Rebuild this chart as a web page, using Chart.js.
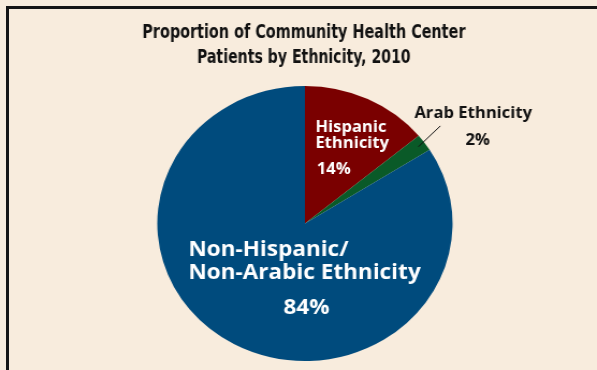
<!DOCTYPE html>
<html>
<head>
<meta charset="utf-8">
<script src="https://cdn.jsdelivr.net/npm/chart.js@4/dist/chart.umd.min.js"></script>
<style>
  html, body { margin: 0; padding: 0; background: #f8ecdd; overflow: hidden; }
  #frame {
    position: absolute; left: 6px; top: 6px; width: 700px; height: 500px;
    border-left: 3px solid #151515; border-top: 3px solid #151515;
  }
  /* the chart is drawn a little narrower, then widened to fit */
  #wrap {
    position: absolute; left: 0; top: 0; width: 556px; height: 370px;
    transform: scaleX(1.0737); transform-origin: 0 0;
  }
</style>
</head>
<body>
<div id="frame"></div>
<div id="wrap"><canvas id="pieChart"></canvas></div>
<script>
// Community health center patients by ethnicity, 2010 (percent)
const categories = ['Hispanic Ethnicity', 'Arab Ethnicity', 'Non-Hispanic/Non-Arabic Ethnicity'];
const shares = [14, 2, 84];
const sliceColors = ['#7a0000', '#0a5a28', '#004b7d'];
const titleLines = ['Proportion of Community Health Center', 'Patients by Ethnicity, 2010'];

const labelFont = '"Open Sans", "Noto Sans", sans-serif';

// draws a line of text squeezed to a given width (condensed look)
function condensedText(ctx, text, x, y, width) {
    const k = width / ctx.measureText(text).width;
    ctx.save();
    ctx.translate(x, y);
    ctx.scale(k, 1);
    ctx.fillText(text, 0, 0);
    ctx.restore();
}

// title plus the text written on and beside the slices
const pieLabels = {
    id: 'pieLabels',
    afterDraw(chart) {
        const ctx = chart.ctx;
        const arcs = chart.getDatasetMeta(0).data;
        const cx = arcs[0].x, cy = arcs[0].y, r = arcs[0].outerRadius;
        const midX = (chart.chartArea.left + chart.chartArea.right) / 2;

        ctx.save();
        ctx.textBaseline = 'middle';

        // title
        ctx.fillStyle = '#111';
        ctx.textAlign = 'center';
        ctx.font = 'bold 19px "DejaVu Sans Condensed", "DejaVu Sans", sans-serif';
        condensedText(ctx, titleLines[0], midX - 1, 33, 301);
        condensedText(ctx, titleLines[1], midX - 1, 58, 199);

        // Hispanic slice
        ctx.fillStyle = '#fff';
        ctx.textAlign = 'left';
        ctx.font = 'bold 15.5px ' + labelFont;
        ctx.fillText('Hispanic', cx + 0.07 * r, cy - 0.70 * r);
        ctx.fillText('Ethnicity', cx + 0.07 * r, cy - 0.58 * r);
        ctx.fillText(shares[0] + '%', cx + 0.08 * r, cy - 0.39 * r);

        // large slice
        ctx.font = 'bold 21px ' + labelFont;
        ctx.fillText('Non-Hispanic/', cx - 0.79 * r, cy + 0.195 * r);
        ctx.fillText('Non-Arabic Ethnicity', cx - 0.79 * r, cy + 0.36 * r);
        ctx.textAlign = 'center';
        ctx.fillText(shares[2] + '%', cx + 0.01 * r, cy + 0.615 * r);

        // Arab slice, labelled outside with a leader line
        const a = arcs[1];
        const mid = (a.startAngle + a.endAngle) / 2;
        ctx.strokeStyle = '#111';
        ctx.lineWidth = 1;
        ctx.beginPath();
        ctx.moveTo(cx + Math.cos(mid) * 0.95 * r, cy + Math.sin(mid) * 0.95 * r);
        ctx.lineTo(cx + Math.cos(mid - 0.03) * 1.16 * r, cy + Math.sin(mid - 0.03) * 1.16 * r);
        ctx.stroke();

        ctx.fillStyle = '#111';
        ctx.font = 'bold 15.5px ' + labelFont;
        ctx.fillText('Arab Ethnicity', cx + 1.14 * r, cy - 0.80 * r);
        ctx.fillText(shares[1] + '%', cx + 1.17 * r, cy - 0.605 * r);
        ctx.restore();
    }
};

new Chart(document.getElementById('pieChart'), {
    type: 'pie',
    data: {
        labels: categories,
        datasets: [{
            data: shares,
            backgroundColor: sliceColors,
            borderWidth: 0
        }]
    },
    options: {
        responsive: true,
        maintainAspectRatio: false,
        animation: false,
        layout: { padding: { top: 86, bottom: 9, left: 12, right: 0 } },
        plugins: {
            legend: { display: false },
            tooltip: { enabled: false },
            title: { display: false }
        }
    },
    plugins: [pieLabels]
});
</script>
</body>
</html>
